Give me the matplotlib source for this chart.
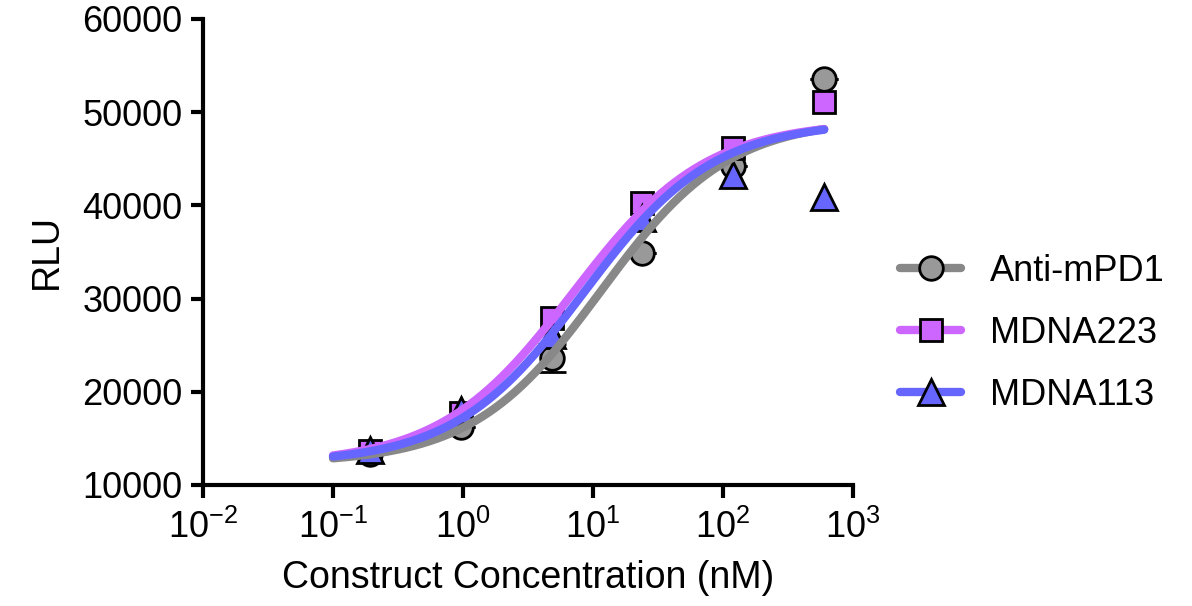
import numpy as np
import matplotlib
matplotlib.use("Agg")
import matplotlib.pyplot as plt

plt.rcParams['font.family'] = ['Liberation Sans', 'DejaVu Sans']

# data (5-fold dilution series)
conc = [0.192, 0.96, 4.8, 24, 120, 600]
anti_mpd1 = [13300, 16200, 23600, 34900, 44200, 53600]
mdna223 = [13650, 17700, 27900, 40300, 46200, 51100]
mdna113 = [13750, 18000, 26100, 38600, 43300, 40900]
anti_mpd1_err = [0, 0, 1500, 0, 0, 0]

# 4PL fit parameters (bottom, top, EC50, hill) estimated from the curves
fit_anti = [12300, 49300, 11.5, 0.88]
fit_223 = [12200, 49000, 7.0, 0.85]
fit_113 = [12300, 49000, 8.5, 0.87]

names = ["Anti-mPD1", "MDNA223", "MDNA113"]
line_cols = ["#888888", "#cc66ff", "#6666ff"]
face_cols = ["#999999", "#cc66ff", "#6666ff"]
markers = ["o", "s", "^"]
msizes = [17, 16, 19]

def fourpl(x, p):
    b, t, ec, h = p
    return b + (t - b) / (1 + (ec / x) ** h)

fig = plt.figure(figsize=(11.92, 6.06), dpi=100)
ax = fig.add_axes([0.1703, 0.1997, 0.5453, 0.769])

xs = np.logspace(-1, np.log10(600), 300)
series = [anti_mpd1, mdna223, mdna113]
fits = [fit_anti, fit_223, fit_113]

ax.errorbar(conc, anti_mpd1, yerr=anti_mpd1_err, fmt='none', ecolor='black',
            elinewidth=2, capsize=10, capthick=2, zorder=2)
for i in range(3):
    ax.plot(conc, series[i], linestyle='none', marker=markers[i], ms=msizes[i],
            mfc=face_cols[i], mec='black', mew=2, zorder=3)

handles = []
for i in range(3):
    ax.plot(xs, fourpl(xs, fits[i]), color=line_cols[i], lw=6,
            solid_capstyle='round', zorder=4 + i)
    h, = ax.plot([], [], color=line_cols[i], lw=6, solid_capstyle='round',
                 marker=markers[i], ms=msizes[i], mfc=face_cols[i], mec='black', mew=2)
    handles.append(h)

ax.set_xscale('log')
ax.set_xlim(1e-2, 1e3)
ax.set_ylim(10000, 60000)
ax.set_yticks([10000, 20000, 30000, 40000, 50000, 60000])
ax.set_xticks([1e-2, 1e-1, 1e0, 1e1, 1e2, 1e3])
ax.yaxis.set_minor_locator(matplotlib.ticker.NullLocator())
ax.xaxis.set_minor_locator(matplotlib.ticker.NullLocator())

for s in ['top', 'right']:
    ax.spines[s].set_visible(False)
for s in ['left', 'bottom']:
    ax.spines[s].set_linewidth(3)
ax.tick_params(width=3, length=9, labelsize=26, pad=6)
ax.tick_params(axis='x', pad=9)

ax.set_xlabel("Construct Concentration (nM)", fontsize=27, labelpad=10)
ax.set_ylabel("RLU", fontsize=27, labelpad=12)

fig.legend(handles, names, loc='center left', bbox_to_anchor=(0.755, 0.45),
           frameon=False, fontsize=26, handlelength=1.7, handletextpad=0.8,
           labelspacing=0.75, borderpad=0, borderaxespad=0)

fig.savefig("out.png", dpi=100)
